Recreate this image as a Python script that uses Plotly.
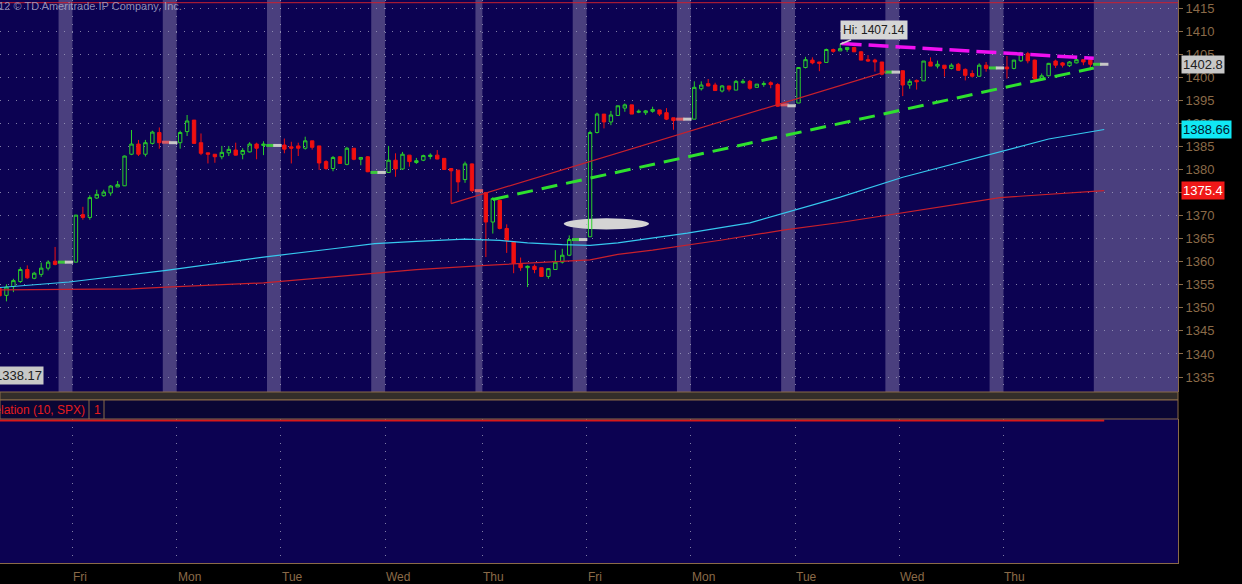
import plotly.graph_objects as go

# ------------------------------------------------------------------ data
day_labels = ["Fri", "Mon", "Tue", "Wed", "Thu", "Fri", "Mon", "Tue", "Wed", "Thu"]
day_start_slots = [10.5, 25.5, 40.5, 55.5, 69.5, 84.5, 99.5, 114.5, 129.5, 144.5]

# regular-session 30-min bars: first slot index and number of bars per session
session_first_slot = [0, 11, 26, 41, 56, 70, 85, 100, 115, 130, 145]
session_bars = [9, 13, 13, 13, 13, 13, 13, 13, 13, 13, 13]

opens = [
    1354.2, 1352.7, 1354.6, 1355.7, 1358.3, 1356.4, 1357.25, 1358.6, 1360.1,
    1359.9, 1370.2, 1369.6, 1373.8, 1374.3, 1374.9, 1376.2, 1376.45, 1383.3, 1385.5, 1383.3, 1385.65, 1388.0,
    1385.8, 1388.2, 1390.7, 1385.8, 1383.6, 1383.3, 1382.75, 1383.6, 1384.2, 1383.3, 1383.8, 1385.5, 1385.2,
    1385.3, 1384.9, 1385.1, 1384.6, 1386.2, 1385.1, 1381.7, 1380.2, 1382.75, 1381.1, 1384.6, 1382.2, 1382.75,
    1379.35, 1382.0, 1380.1, 1383.1, 1381.5, 1382.0, 1382.8, 1383.1, 1382.4, 1380.2, 1379.85, 1377.8, 1381.2,
    1375.0, 1368.6, 1373.3, 1367.2, 1364.3, 1359.6, 1358.7, 1359.0, 1358.7, 1356.8, 1358.3, 1359.9, 1361.4,
    1365.4, 1388.0, 1392.0, 1390.3, 1391.7, 1393.3, 1394.0, 1392.4, 1392.3, 1392.6, 1392.9, 1392.3, 1391.2,
    1390.9, 1397.5, 1398.6, 1398.3, 1397.0, 1398.1, 1397.2, 1398.8, 1399.1, 1397.8, 1398.4, 1398.8, 1398.4,
    1394.4, 1402.1, 1403.7, 1403.3, 1403.2, 1406.0, 1405.7, 1406.0, 1406.45, 1405.5, 1403.8, 1403.7, 1403.3,
    1401.4, 1398.3, 1399.3, 1399.2, 1403.3, 1402.4, 1402.6, 1401.9, 1402.8, 1401.7, 1400.8, 1400.2, 1402.6,
    1402.2, 1401.9, 1403.55, 1405.1, 1403.7, 1399.6, 1400.3, 1403.5, 1403.1, 1402.5, 1403.1, 1403.8, 1403.8,
]
highs = [
    1354.6, 1355.1, 1356.3, 1358.8, 1359.2, 1357.8, 1359.8, 1360.3, 1363.2,
    1370.1, 1371.9, 1374.4, 1375.6, 1375.6, 1376.6, 1377.5, 1383.0, 1388.55, 1386.4, 1386.4, 1388.4, 1389.1,
    1388.4, 1391.8, 1390.7, 1387.8, 1383.6, 1383.3, 1385.1, 1385.1, 1385.8, 1384.6, 1385.9, 1385.8, 1386.1,
    1386.7, 1386.0, 1385.8, 1387.1, 1386.2, 1385.1, 1382.0, 1382.9, 1382.9, 1384.9, 1384.6, 1382.6, 1382.9,
    1385.1, 1383.5, 1383.8, 1383.1, 1382.5, 1383.2, 1383.5, 1384.2, 1382.4, 1380.2, 1379.85, 1381.7, 1381.3,
    1375.0, 1374.0, 1373.3, 1368.1, 1364.3, 1360.9, 1359.2, 1359.4, 1358.7, 1358.5, 1362.5, 1362.8, 1365.7,
    1388.4, 1392.3, 1392.0, 1392.7, 1393.8, 1394.3, 1394.0, 1393.0, 1392.9, 1393.6, 1392.9, 1393.3, 1391.2,
    1399.1, 1399.1, 1399.6, 1398.8, 1398.3, 1398.1, 1399.4, 1399.6, 1399.4, 1398.5, 1399.1, 1399.1, 1398.7,
    1402.1, 1404.4, 1404.3, 1403.3, 1406.2, 1406.2, 1407.14, 1406.45, 1406.6, 1405.7, 1404.8, 1404.0, 1403.3,
    1401.4, 1399.6, 1399.5, 1403.5, 1404.3, 1403.6, 1402.6, 1403.0, 1403.1, 1401.9, 1401.5, 1403.0, 1403.3,
    1404.6, 1403.7, 1405.5, 1405.5, 1403.8, 1400.8, 1403.1, 1403.8, 1403.3, 1403.5, 1404.1, 1403.8, 1403.8,
]
lows = [
    1351.8, 1351.4, 1353.4, 1355.4, 1356.3, 1356.2, 1356.7, 1358.1, 1359.2,
    1359.9, 1369.1, 1369.1, 1373.6, 1374.1, 1374.3, 1376.2, 1376.4, 1383.1, 1382.9, 1382.8, 1385.4, 1384.5,
    1384.5, 1387.25, 1385.6, 1383.1, 1381.3, 1381.45, 1382.2, 1382.9, 1383.0, 1382.2, 1383.7, 1382.2, 1383.1,
    1383.5, 1381.3, 1382.9, 1384.3, 1384.3, 1379.9, 1379.9, 1379.6, 1381.2, 1380.9, 1382.0, 1380.9, 1379.4,
    1379.3, 1378.4, 1379.9, 1380.6, 1381.2, 1381.8, 1382.2, 1382.2, 1380.0, 1372.6, 1375.1, 1377.1, 1375.1,
    1361.0, 1366.1, 1367.0, 1361.9, 1357.5, 1358.0, 1354.5, 1357.5, 1356.7, 1356.3, 1358.2, 1359.6, 1361.2,
    1365.4, 1387.8, 1388.9, 1389.6, 1391.6, 1392.5, 1392.0, 1392.2, 1391.8, 1392.3, 1391.6, 1390.7, 1388.6,
    1390.9, 1397.1, 1398.0, 1397.1, 1396.7, 1396.9, 1397.2, 1398.6, 1397.3, 1397.7, 1397.9, 1397.6, 1393.6,
    1394.4, 1401.9, 1402.8, 1401.3, 1403.2, 1405.3, 1405.7, 1405.5, 1405.5, 1403.7, 1403.3, 1401.2, 1400.4,
    1395.9, 1397.5, 1397.3, 1399.2, 1402.4, 1401.9, 1400.1, 1401.7, 1401.4, 1399.3, 1399.9, 1400.1, 1401.2,
    1399.7, 1401.7, 1403.3, 1403.0, 1399.0, 1399.3, 1400.2, 1402.0, 1402.1, 1402.2, 1403.0, 1402.6, 1401.5,
]
closes = [
    1352.6, 1354.5, 1355.9, 1358.3, 1356.5, 1357.5, 1358.6, 1359.9, 1359.4,
    1370.1, 1369.6, 1373.9, 1374.6, 1375.1, 1376.4, 1376.7, 1382.9, 1385.5, 1383.3, 1385.8, 1388.1, 1385.8,
    1388.0, 1390.5, 1385.65, 1383.5, 1383.3, 1382.75, 1383.7, 1384.35, 1383.1, 1384.1, 1385.5, 1384.6, 1385.5,
    1384.4, 1384.6, 1384.6, 1386.2, 1384.8, 1381.4, 1380.2, 1382.6, 1381.3, 1384.6, 1382.2, 1382.6, 1379.5,
    1382.0, 1380.1, 1383.3, 1381.7, 1381.9, 1383.0, 1383.1, 1382.25, 1380.0, 1379.7, 1377.3, 1381.2, 1375.4,
    1368.6, 1373.7, 1367.2, 1364.6, 1359.6, 1358.7, 1359.0, 1358.3, 1356.8, 1358.5, 1359.9, 1361.4, 1364.8,
    1388.0, 1392.0, 1390.3, 1391.8, 1393.8, 1394.0, 1392.0, 1392.6, 1392.7, 1393.0, 1392.0, 1390.9, 1390.6,
    1397.8, 1398.3, 1398.1, 1397.1, 1398.1, 1397.4, 1399.1, 1399.1, 1397.6, 1398.5, 1398.6, 1398.4, 1393.7,
    1402.1, 1403.8, 1403.1, 1403.0, 1406.0, 1405.6, 1406.2, 1406.45, 1405.5, 1403.7, 1403.5, 1403.3, 1400.65,
    1398.3, 1399.1, 1399.0, 1403.5, 1402.4, 1402.8, 1401.9, 1402.6, 1401.5, 1400.4, 1400.2, 1402.6, 1401.9,
    1401.8, 1403.7, 1405.3, 1403.55, 1399.6, 1400.3, 1403.0, 1402.6, 1402.6, 1403.3, 1403.8, 1403.3, 1402.8,
]

# extended-hours flat bars (shown as short dashes inside the shaded bands)
ext_slots = [9, 10, 24, 25, 39, 40, 54, 55, 69, 83, 84, 98, 99, 113, 114, 128, 129, 143, 144, 158, 159]
ext_prices = [1359.9, 1359.9, 1385.9, 1385.8, 1385.2, 1385.2, 1379.35, 1379.35, 1375.4, 1364.8, 1364.8,
              1390.9, 1390.9, 1394.0, 1393.8, 1401.1, 1401.1, 1402.0, 1402.0, 1402.8, 1402.8]
ext_dir = ["up", "flat", "down", "flat", "up", "flat", "up", "flat", "down", "up", "flat",
           "down", "flat", "down", "flat", "up", "flat", "up", "flat", "up", "flat"]

# extended-hours shaded bands (slot ranges); last one runs into the empty right margin
band_ranges = [(8.5, 10.5), (23.5, 25.5), (38.5, 40.5), (53.5, 55.5), (68.5, 69.5), (82.5, 84.5),
               (97.5, 99.5), (112.5, 114.5), (127.5, 129.5), (142.5, 144.5), (157.5, 175.0)]

# moving averages
ma_fast_slots = [0, 10, 24, 38, 48, 54, 60, 67, 72, 76, 81, 85, 89, 99, 108, 113, 121, 130, 144, 151, 159]
ma_fast_vals = [1354.4, 1355.6, 1358.1, 1361.0, 1362.8, 1363.9, 1364.4, 1364.9, 1364.6, 1364.1, 1363.7,
                1363.55, 1364.1, 1366.2, 1368.4, 1370.6, 1374.0, 1378.3, 1383.8, 1386.6, 1388.66]
ma_slow_slots = [0, 19, 24, 38, 48, 54, 60, 70, 80, 85, 89, 94, 104, 113, 121, 130, 144, 159]
ma_slow_vals = [1353.9, 1354.1, 1354.5, 1355.4, 1356.7, 1357.5, 1358.3, 1359.2, 1360.1, 1360.4, 1361.6,
                1362.5, 1364.7, 1366.9, 1368.5, 1370.6, 1373.9, 1375.4]

# drawn trend lines
trend_red_slots = [65, 127.6]
trend_red_vals = [1372.6, 1401.2]
trend_green_slots = [71, 157.5]
trend_green_vals = [1373.5, 1402.0]
trend_magenta_slots = [121.2, 157.5]
trend_magenta_vals = [1407.3, 1404.1]
top_line_price = 1416.15

# lower study: Correlation (10, SPX)
corr_slots = [0, 40, 80, 120, 159]
corr_vals = [1.0, 1.0, 1.0, 1.0, 1.0]

# labels
hi_slot, hi_price = 121, 1407.14
last_price, fast_last, slow_last = 1402.8, 1388.66, 1375.4
low_label = "1338.17"
price_ticks = list(range(1335, 1420, 5))

# marker ellipse (slot / price extent)
ellipse_slots = (81.2, 93.5)
ellipse_prices = (1367.0, 1369.4)

# ------------------------------------------------------------------ geometry helpers
W, H = 1242, 584
SLOT_PX = 6.948
PLOT_RIGHT = 1178


def px_x(x):
    return x / W


def px_y(y):
    return (H - y) / H


candle_x = []
for first, n in zip(session_first_slot, session_bars):
    candle_x.extend(range(first, first + n))

NAVY = "#0c0252"
BAND = "#4a3f7e"
BROWN = "#8a6a48"
FONT = "Liberation Sans"

fig = go.Figure()

fig.add_trace(go.Candlestick(
    x=candle_x, open=opens, high=highs, low=lows, close=closes,
    increasing=dict(line=dict(color="#2ad02a", width=1), fillcolor="rgba(0,0,0,0)"),
    decreasing=dict(line=dict(color="#f01010", width=1), fillcolor="#f01010"),
    whiskerwidth=0, xaxis="x", yaxis="y", showlegend=False, hoverinfo="skip"))

dir_color = {"up": "#3cc83c", "down": "#d85a64", "flat": "#c8c8c8"}
fig.add_trace(go.Scatter(
    x=ext_slots, y=ext_prices, mode="markers", xaxis="x", yaxis="y",
    marker=dict(symbol="line-ew", size=6,
                line=dict(width=3, color=[dir_color[d] for d in ext_dir])),
    showlegend=False, hoverinfo="skip"))

fig.add_trace(go.Scatter(x=ma_slow_slots, y=ma_slow_vals, mode="lines", xaxis="x", yaxis="y",
                         line=dict(color="#c8202c", width=1.2), showlegend=False, hoverinfo="skip"))
fig.add_trace(go.Scatter(x=ma_fast_slots, y=ma_fast_vals, mode="lines", xaxis="x", yaxis="y",
                         line=dict(color="#36c8ee", width=1.2), showlegend=False, hoverinfo="skip"))
fig.add_trace(go.Scatter(x=trend_red_slots, y=trend_red_vals, mode="lines", xaxis="x", yaxis="y",
                         line=dict(color="#c8202c", width=1.2), showlegend=False, hoverinfo="skip"))
fig.add_trace(go.Scatter(x=trend_green_slots, y=trend_green_vals, mode="lines", xaxis="x", yaxis="y",
                         line=dict(color="#2ee02e", width=3, dash="16px,9px"),
                         showlegend=False, hoverinfo="skip"))
fig.add_trace(go.Scatter(x=trend_magenta_slots, y=trend_magenta_vals, mode="lines", xaxis="x", yaxis="y",
                         line=dict(color="#f010f0", width=3.5, dash="20px,7px"),
                         showlegend=False, hoverinfo="skip"))

fig.add_trace(go.Scatter(x=corr_slots, y=corr_vals, mode="lines", xaxis="x2", yaxis="y2",
                         line=dict(color="#d81818", width=2), showlegend=False, hoverinfo="skip"))

shapes = []
for a, b in band_ranges:
    shapes.append(dict(type="rect", xref="x", yref="y domain", x0=a, x1=b, y0=0, y1=1,
                       fillcolor=BAND, line=dict(width=0), layer="below"))
shapes.append(dict(type="circle", xref="x", yref="y", x0=ellipse_slots[0], x1=ellipse_slots[1],
                   y0=ellipse_prices[0], y1=ellipse_prices[1], fillcolor="#d4d4d4",
                   line=dict(width=0), layer="below"))
shapes.append(dict(type="line", xref="x domain", yref="y", x0=0, x1=1, y0=top_line_price,
                   y1=top_line_price, line=dict(color="#c82030", width=1)))
# pane separator (hatched strip) and study header bar
shapes.append(dict(type="rect", xref="paper", yref="paper", x0=0, x1=px_x(PLOT_RIGHT),
                   y0=px_y(400), y1=px_y(392), fillcolor="#332e2a",
                   line=dict(color=BROWN, width=1), layer="above"))
shapes.append(dict(type="rect", xref="paper", yref="paper", x0=0, x1=px_x(PLOT_RIGHT),
                   y0=px_y(419), y1=px_y(400), fillcolor="#0a0634",
                   line=dict(color=BROWN, width=1), layer="above"))
for xs in (89, 104):
    shapes.append(dict(type="line", xref="paper", yref="paper", x0=px_x(xs), x1=px_x(xs),
                       y0=px_y(419), y1=px_y(400), line=dict(color=BROWN, width=1)))

annotations = []
annotations.append(dict(text="2012 © TD Ameritrade IP Company, Inc.", xref="paper", yref="paper",
                        x=px_x(-16), y=px_y(6), xanchor="left", yanchor="middle", showarrow=False,
                        font=dict(family=FONT, size=11, color="rgba(175,175,205,0.8)")))
for lbl, s in zip(day_labels, day_start_slots):
    annotations.append(dict(text=lbl, xref="x2", yref="paper", x=s, y=px_y(577),
                            xanchor="left", yanchor="middle", showarrow=False, xshift=-1,
                            font=dict(family=FONT, size=12, color=BROWN)))
for val, bg, fg in ((last_price, "#c8c8c8", "#202020"), (fast_last, "#10e8f4", "#002030"),
                    (slow_last, "#f01818", "#ffffff")):
    annotations.append(dict(text=f"{val:g}", xref="paper", yref="y", x=px_x(1181), y=val,
                            xanchor="left", yanchor="middle", showarrow=False, bgcolor=bg,
                            borderpad=1, font=dict(family=FONT, size=13, color=fg)))
annotations.append(dict(text=f"Hi: {hi_price:.2f}", xref="x", yref="y", x=hi_slot, y=hi_price,
                        ax=34, ay=-14, showarrow=True, arrowhead=0, arrowwidth=1.5,
                        arrowcolor="#d0d0d0", bgcolor="#d6d6d6", borderpad=2,
                        font=dict(family=FONT, size=12, color="#202020")))
annotations.append(dict(text=low_label, xref="paper", yref="y", x=px_x(44), y=1335.3,
                        xanchor="right", yanchor="middle", showarrow=False, bgcolor="#c8c8c8",
                        borderpad=1, font=dict(family=FONT, size=13, color="#202020")))
annotations.append(dict(text="Correlation (10, SPX)", xref="paper", yref="paper", x=px_x(87),
                        y=px_y(409.5), xanchor="right", yanchor="middle", showarrow=False,
                        font=dict(family=FONT, size=12, color="#e41c1c")))
annotations.append(dict(text="1", xref="paper", yref="paper", x=px_x(92), y=px_y(409.5),
                        xanchor="left", yanchor="middle", showarrow=False,
                        font=dict(family=FONT, size=12, color="#e41c1c")))

x_range = [0.5 / SLOT_PX, (PLOT_RIGHT + 0.5) / SLOT_PX]
y_top = 1415 + 8 / 4.6125
y_bot = 1415 - 384 / 4.6125
grid_kw = dict(showgrid=True, gridcolor="rgba(165,165,195,0.75)", gridwidth=1, griddash="1px,7px")

fig.update_layout(
    width=W, height=H, margin=dict(l=0, r=0, t=0, b=0),
    paper_bgcolor="#000000", plot_bgcolor=NAVY, showlegend=False,
    xaxis=dict(domain=[0, px_x(PLOT_RIGHT)], range=x_range, anchor="y",
               tickvals=day_start_slots, showticklabels=False, ticks="",
               zeroline=False, showline=False, rangeslider=dict(visible=False), **grid_kw),
    yaxis=dict(domain=[px_y(392), 1.0], range=[y_bot, y_top], side="right", anchor="x",
               tickvals=price_ticks, ticks="outside", ticklen=4, tickcolor=BROWN,
               tickfont=dict(family=FONT, size=13, color=BROWN), showline=True,
               linecolor=BROWN, zeroline=False, **grid_kw),
    xaxis2=dict(domain=[0, px_x(PLOT_RIGHT)], range=x_range, anchor="y2", matches="x",
                tickvals=day_start_slots, showticklabels=False, ticks="", zeroline=False,
                showline=True, linecolor=BROWN, mirror=False, **grid_kw),
    yaxis2=dict(domain=[px_y(563), px_y(419)], range=[-1.0, 1.02], side="right", anchor="x2",
                showticklabels=False, showgrid=False, zeroline=False, showline=True,
                linecolor=BROWN, ticks=""),
    shapes=shapes, annotations=annotations,
)

fig.write_html(
    "out.html",
    config={"displayModeBar": False},
    post_script="document.body.style.margin='0px';document.body.style.padding='0px';"
                "document.body.style.overflow='hidden';document.body.style.background='#000';",
)
